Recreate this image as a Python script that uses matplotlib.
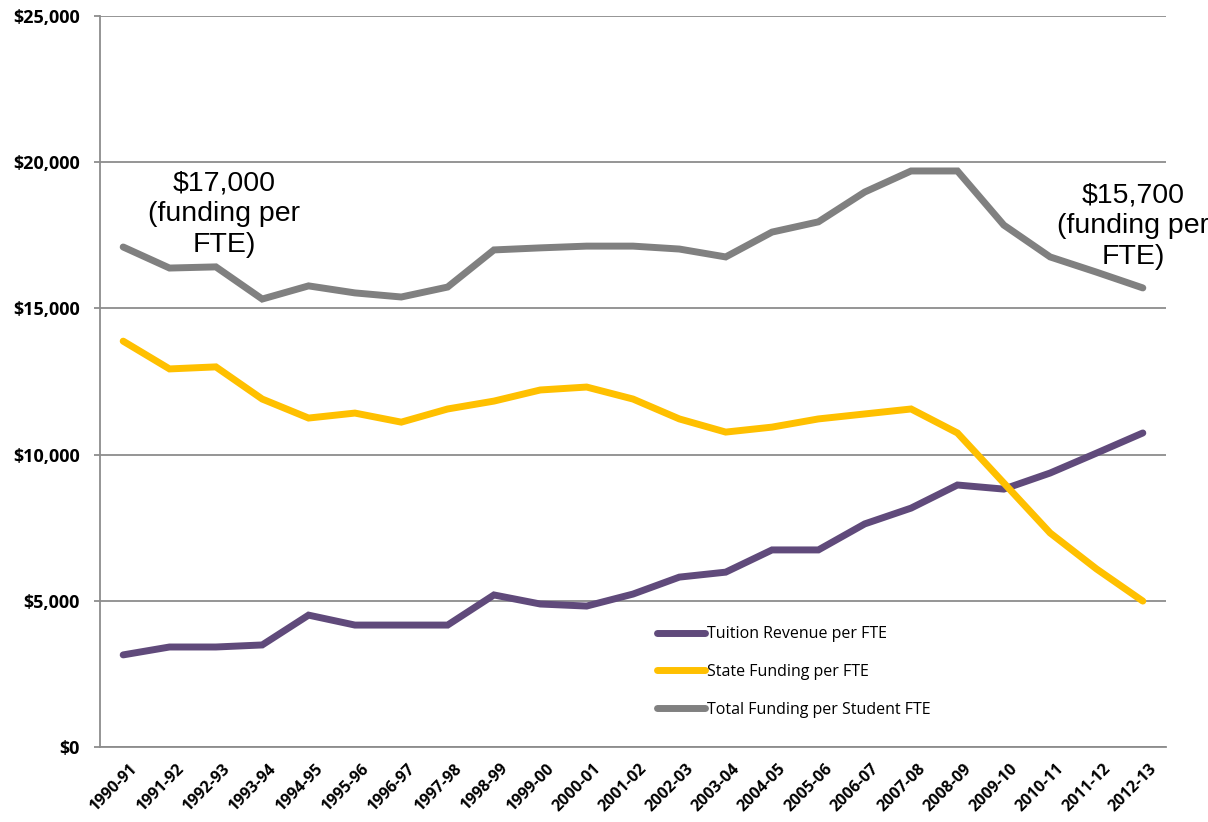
import matplotlib
matplotlib.use("Agg")
import matplotlib.pyplot as plt
import matplotlib.transforms as mtransforms
from matplotlib.ticker import FuncFormatter, MultipleLocator

years = ["1990-91", "1991-92", "1992-93", "1993-94", "1994-95", "1995-96", "1996-97",
         "1997-98", "1998-99", "1999-00", "2000-01", "2001-02", "2002-03", "2003-04",
         "2004-05", "2005-06", "2006-07", "2007-08", "2008-09", "2009-10", "2010-11",
         "2011-12", "2012-13"]
tuition = [3150, 3420, 3420, 3490, 4510, 4170, 4170, 4170, 5200, 4890, 4820, 5230,
           5810, 5980, 6740, 6740, 7630, 8170, 8960, 8820, 9370, 10050, 10740]
state = [13880, 12930, 13000, 11900, 11250, 11420, 11110, 11560, 11830, 12210, 12310,
         11900, 11220, 10770, 10940, 11220, 11390, 11560, 10740, 9030, 7320, 6090, 4990]
total = [17100, 16380, 16420, 15320, 15770, 15530, 15390, 15730, 17000, 17070, 17130,
         17130, 17030, 16760, 17610, 17960, 18980, 19700, 19700, 17850, 16760, 16240, 15700]
labels = ["Tuition Revenue per FTE", "State Funding per FTE", "Total Funding per Student FTE"]
colors = ["#604A7B", "#FFC000", "#808080"]

fig = plt.figure(figsize=(12.08, 8.22), dpi=100)
ax = fig.add_axes([100/1208, 75/822, 1066/1208, 731/822])

x = list(range(len(years)))
for ys, lab, c in zip([tuition, state, total], labels, colors):
    ax.plot(x, ys, color=c, lw=5, label=lab, solid_capstyle="round", solid_joinstyle="miter")

ax.set_xlim(-0.5, len(years) - 0.5)
ax.set_ylim(0, 25000)
ax.yaxis.set_major_locator(MultipleLocator(5000))
ax.yaxis.set_major_formatter(FuncFormatter(lambda v, p: f"${v:,.0f}"))
ax.grid(axis="y", color="#8C8C8C", lw=1.3)
ax.set_axisbelow(True)
for s in ["top", "right"]:
    ax.spines[s].set_visible(False)
for s in ["left", "bottom"]:
    ax.spines[s].set_color("#8C8C8C")
    ax.spines[s].set_linewidth(1.3)
ax.tick_params(axis="y", length=4.5, color="#8C8C8C", width=1.3, pad=10)
ax.tick_params(axis="x", length=0, pad=10)
ax.set_xticks(x)
ax.set_xticklabels(years, rotation=45, ha="right", rotation_mode="anchor")
shift = mtransforms.ScaledTranslation(6/100, 0, fig.dpi_scale_trans)
for t in ax.get_yticklabels():
    t.set_fontfamily("Open Sans")
    t.set_fontweight("bold")
    t.set_fontsize(13)
for t in ax.get_xticklabels():
    t.set_fontfamily("Open Sans")
    t.set_fontweight("bold")
    t.set_fontsize(11.5)
    t.set_transform(t.get_transform() + shift)

ax.text(2.18, 18220, "$17,000\n(funding per\nFTE)", ha="center", va="center",
        fontsize=20.5, family="Liberation Sans", linespacing=1.25)
fig.text(1133/1208, 1 - 226/822, "$15,700\n(funding per\nFTE)", ha="center", va="center",
         fontsize=20.5, family="Liberation Sans", linespacing=1.25)

fig.legend(loc="upper left", bbox_to_anchor=(643/1208, 1 - 612/822), frameon=False,
           prop={"family": "Open Sans", "size": 11.5}, handlelength=3.0,
           labelspacing=1.35, handletextpad=0.1)

fig.savefig("out.png", dpi=100)
